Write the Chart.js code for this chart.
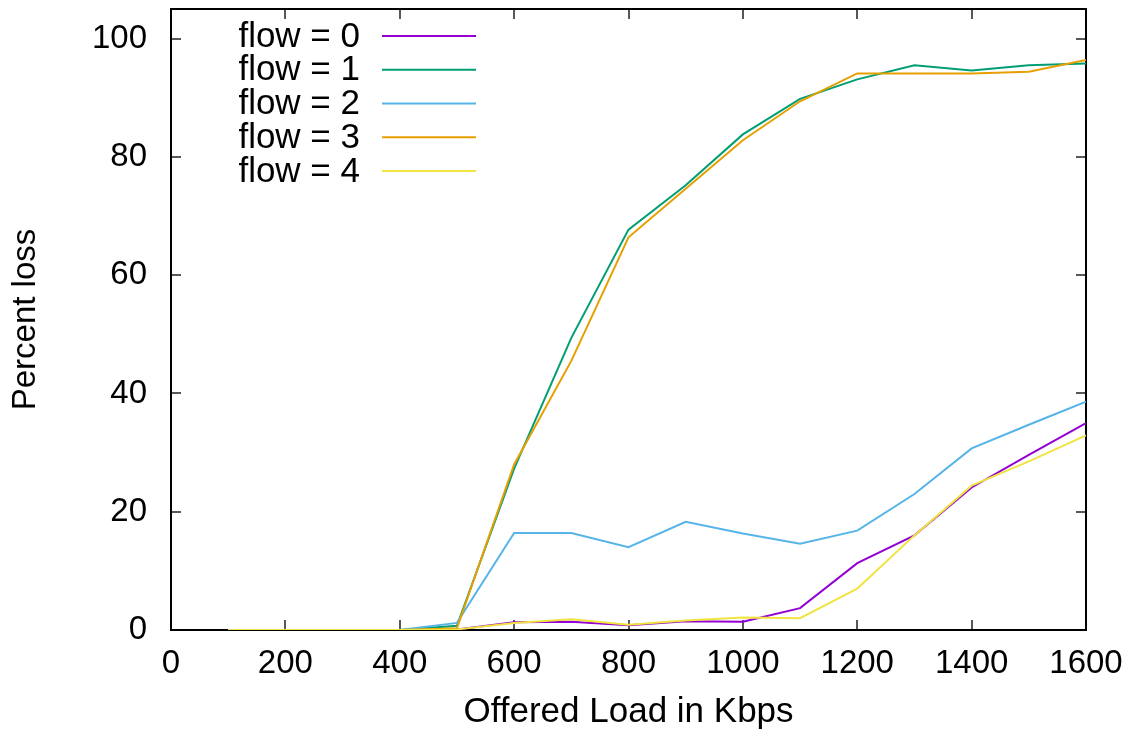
<!DOCTYPE html>
<html>
<head>
<meta charset="utf-8">
<title>Percent loss per flow</title>
<script src="https://cdn.jsdelivr.net/npm/chart.js@4.4.1/dist/chart.umd.min.js"></script>
<style>
  html, body { margin: 0; padding: 0; background: #fff; }
  canvas { display: block; }
</style>
</head>
<body>
<canvas id="chart" width="1140" height="735"></canvas>
<script>
// offered load (Kbps) and percent loss for each flow
let loads = [100, 200, 300, 400, 500, 600, 700, 800, 900, 1000, 1100, 1200, 1300, 1400, 1500, 1600];
let flow0 = [0, 0, 0, 0, 0.1, 1.3, 1.4, 0.8, 1.5, 1.4, 3.7, 11.3, 16.0, 24.1, 29.6, 35.0];
let flow1 = [0, 0, 0, 0, 0.7, 27.3, 49.4, 67.7, 75.2, 83.8, 89.8, 93.1, 95.5, 94.6, 95.5, 95.8];
let flow2 = [0, 0, 0, 0, 1.2, 16.4, 16.4, 14.0, 18.3, 16.3, 14.6, 16.8, 23.0, 30.7, 34.7, 38.6];
let flow3 = [0, 0, 0, 0, 0.3, 28.0, 45.5, 66.4, 74.6, 82.8, 89.4, 94.1, 94.1, 94.1, 94.4, 96.4];
let flow4 = [0, 0, 0, 0, 0.1, 1.2, 1.8, 0.9, 1.6, 2.1, 2.0, 7.0, 16.0, 24.4, 28.5, 32.9];

let flowNames = ['flow = 0', 'flow = 1', 'flow = 2', 'flow = 3', 'flow = 4'];
let flowColors = ['#9400d3', '#009e73', '#56b4e9', '#e69f00', '#f0e442'];

let xTicks = [0, 200, 400, 600, 800, 1000, 1200, 1400, 1600];
let yTicks = [0, 20, 40, 60, 80, 100];

let FONT = '"Liberation Sans", Arial, sans-serif';

let series = [flow0, flow1, flow2, flow3, flow4];
let datasets = series.map((values, i) => ({
    label: flowNames[i],
    data: values.map((v, j) => ({x: loads[j], y: v})),
    borderColor: flowColors[i],
    backgroundColor: flowColors[i],
    borderWidth: 2,
    pointRadius: 0,
    tension: 0,
    order: series.length - i,   // later flows on top
}));

// black box with inward ticks on all four sides
let framePlugin = {
    id: 'frame',
    beforeDatasetsDraw(chart) {
        let ctx = chart.ctx;
        let a = chart.chartArea;
        let sx = chart.scales.x, sy = chart.scales.y;
        ctx.save();
        ctx.strokeStyle = '#222';
        ctx.lineWidth = 1.5;
        ctx.beginPath();
        xTicks.forEach((v) => {
            let px = Math.round(sx.getPixelForValue(v));
            ctx.moveTo(px, a.bottom); ctx.lineTo(px, a.bottom - 10);
            ctx.moveTo(px, a.top); ctx.lineTo(px, a.top + 10);
        });
        yTicks.forEach((v) => {
            let py = Math.round(sy.getPixelForValue(v));
            ctx.moveTo(a.left, py); ctx.lineTo(a.left + 10, py);
            ctx.moveTo(a.right, py); ctx.lineTo(a.right - 10, py);
        });
        ctx.stroke();
        ctx.strokeStyle = '#000';
        ctx.lineWidth = 2;
        ctx.strokeRect(a.left, a.top, a.right - a.left, a.bottom - a.top);
        ctx.restore();
    }
};

// key: label right-aligned, then a short line sample
let keyPlugin = {
    id: 'key',
    afterDatasetsDraw(chart) {
        let ctx = chart.ctx;
        let a = chart.chartArea;
        ctx.save();
        ctx.font = '35px ' + FONT;
        ctx.textAlign = 'right';
        ctx.textBaseline = 'middle';
        chart.data.datasets.forEach((ds, i) => {
            let y = a.top + 27 + i * 33.75;
            ctx.fillStyle = '#000';
            ctx.fillText(ds.label, a.left + 189, y + 1);
            ctx.strokeStyle = ds.borderColor;
            ctx.lineWidth = 2;
            ctx.beginPath();
            ctx.moveTo(a.left + 211, y);
            ctx.lineTo(a.left + 305, y);
            ctx.stroke();
        });
        ctx.restore();
    }
};

// tick labels must not push the plot box around
function noLabelPadding(scale) {
    scale.paddingTop = 0;
    scale.paddingBottom = 0;
    scale.paddingLeft = 0;
    scale.paddingRight = 0;
}

new Chart(document.getElementById('chart'), {
    type: 'line',
    data: {datasets: datasets},
    options: {
        responsive: false,
        animation: false,
        layout: {padding: {top: 9, right: 54, left: 0, bottom: 0}},
        plugins: {
            legend: {display: false},
            tooltip: {enabled: false},
        },
        scales: {
            x: {
                type: 'linear',
                min: 0,
                max: 1600,
                grid: {display: false, drawTicks: false},
                border: {display: false},
                afterBuildTicks: (scale) => { scale.ticks = xTicks.map(v => ({value: v})); },
                afterFit: (scale) => { scale.height = 105; noLabelPadding(scale); },
                ticks: {
                    color: '#000',
                    padding: 14,
                    maxRotation: 0,
                    font: {family: FONT, size: 33},
                    callback: (v) => String(v),
                },
                title: {
                    display: true,
                    text: 'Offered Load in Kbps',
                    color: '#000',
                    font: {family: FONT, size: 35},
                    padding: {top: 0, bottom: 2},
                },
            },
            y: {
                type: 'linear',
                min: 0,
                max: 105,
                grid: {display: false, drawTicks: false},
                border: {display: false},
                afterBuildTicks: (scale) => { scale.ticks = yTicks.map(v => ({value: v})); },
                afterFit: (scale) => { scale.width = 171; noLabelPadding(scale); },
                ticks: {
                    color: '#000',
                    padding: 24,
                    font: {family: FONT, size: 33},
                    callback: (v) => String(v),
                },
                title: {
                    display: true,
                    text: 'Percent loss',
                    color: '#000',
                    font: {family: FONT, size: 33},
                    padding: {top: 6, bottom: 0},
                },
            },
        },
    },
    plugins: [framePlugin, keyPlugin],
});
</script>
</body>
</html>
